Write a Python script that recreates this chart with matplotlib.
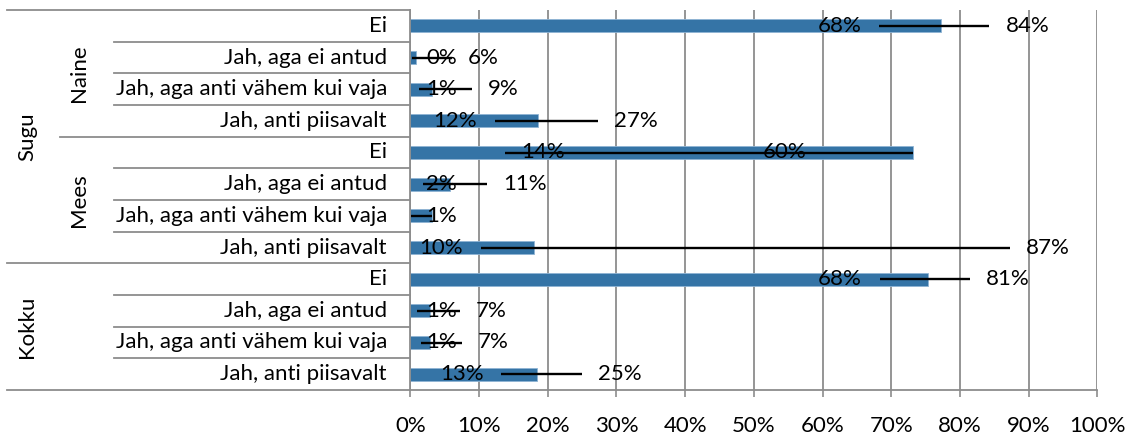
import matplotlib.pyplot as plt
import matplotlib.transforms as mtransforms
import numpy as np

plt.rcParams['font.family'] = ['Lato', 'DejaVu Sans']

answers = ['Ei', 'Jah, aga ei antud', 'Jah, aga anti vähem kui vaja', 'Jah, anti piisavalt']
subgroups = ['Naine', 'Mees']
groups = ['Sugu', 'Kokku']

# osakaal ja usaldusvahemik, %
share = [77.3, 0.8, 3.1, 18.6, 73.2, 5.8, 3.1, 18.0, 75.4, 2.9, 2.9, 18.4]
ci_low = [68.2, 0.3, 1.3, 12.4, 13.8, 1.9, 0.1, 10.3, 68.3, 1.0, 1.5, 13.2]
ci_high = [84.3, 6.0, 9.0, 27.3, 73.2, 11.2, 3.1, 87.3, 81.4, 7.2, 7.5, 25.0]
low_text = [68, 0, 1, 12, 14, 2, 1, 10, 68, 1, 1, 13]
high_text = [84, 6, 9, 27, 60, 11, None, 87, 81, 7, 7, 25]

rows = answers * 3
y = np.arange(len(rows))

W, H = 1135, 437
fig = plt.figure(figsize=(W / 100, H / 100), dpi=100)
ax = fig.add_axes([410.3 / W, 1 - 390 / H, 687 / W, 380 / H])

grid_c = '#8c8c8c'
fs = 16

ax.barh(y, share, height=0.42, color='#3574a6', edgecolor='#8fb4d4', linewidth=0.6, zorder=2)
ax.hlines(y, ci_low, ci_high, color='black', linewidth=1.7, zorder=3)

off = 11.5  # punktides
for i in y:
    lo, hi = low_text[i], high_text[i]
    swap = hi is not None and hi < share[i]
    if swap:
        ax.annotate(f'{lo}%', (ci_low[i], i), xytext=(off, 0), textcoords='offset points',
                    ha='left', va='center', fontsize=fs, zorder=4)
        ax.annotate(f'{hi}%', (hi, i), xytext=(-off, 0), textcoords='offset points',
                    ha='right', va='center', fontsize=fs, zorder=4)
        continue
    if lo < 8:
        ax.annotate(f'{lo}%', (0, i), xytext=(off, 0), textcoords='offset points',
                    ha='left', va='center', fontsize=fs, zorder=4)
    else:
        ax.annotate(f'{lo}%', (lo, i), xytext=(-off, 0), textcoords='offset points',
                    ha='right', va='center', fontsize=fs, zorder=4)
    if hi is not None:
        ax.annotate(f'{hi}%', (ci_high[i], i), xytext=(off, 0), textcoords='offset points',
                    ha='left', va='center', fontsize=fs, zorder=4)

ax.set_xlim(0, 100)
ax.set_ylim(len(rows) - 0.5, -0.5)
ax.set_xticks(np.arange(0, 101, 10))
ax.set_xticklabels([f'{v}%' for v in range(0, 101, 10)], fontsize=fs)
ax.tick_params(axis='x', direction='out', length=5, color=grid_c, width=1.2, pad=14)
ax.set_yticks([])
ax.grid(axis='x', color=grid_c, linewidth=1.3, zorder=0)
for s in ['top', 'right']:
    ax.spines[s].set_visible(False)
for s in ['left', 'bottom']:
    ax.spines[s].set_color(grid_c)
    ax.spines[s].set_linewidth(1.3)

# mitmetasemeline kategooriatelg
tr = mtransforms.blended_transform_factory(fig.transFigure, ax.transData)
x_axis = 410.3 / W
for i, lab in enumerate(rows):
    ax.text(387 / W, i, lab, transform=tr, ha='right', va='center', fontsize=fs)
for k, lab in enumerate(subgroups):
    ax.text(79 / W, 4 * k + 1.5, lab, transform=tr, ha='center', va='center',
            rotation=90, fontsize=fs)
ax.text(27 / W, 3.5, groups[0], transform=tr, ha='center', va='center', rotation=90, fontsize=fs)
ax.text(27 / W, 9.5, groups[1], transform=tr, ha='center', va='center', rotation=90, fontsize=fs)

for b in np.arange(0.5, len(rows) - 1, 1.0):
    if b in (3.5, 7.5):
        continue
    ax.plot([114 / W, x_axis], [b, b], transform=tr, color=grid_c, lw=1.3, clip_on=False)
ax.plot([60 / W, x_axis], [3.5, 3.5], transform=tr, color=grid_c, lw=1.3, clip_on=False)
for b in [-0.5, 7.5, 11.5]:
    ax.plot([7 / W, x_axis], [b, b], transform=tr, color=grid_c, lw=1.3, clip_on=False)

fig.savefig('out.png', dpi=100)
